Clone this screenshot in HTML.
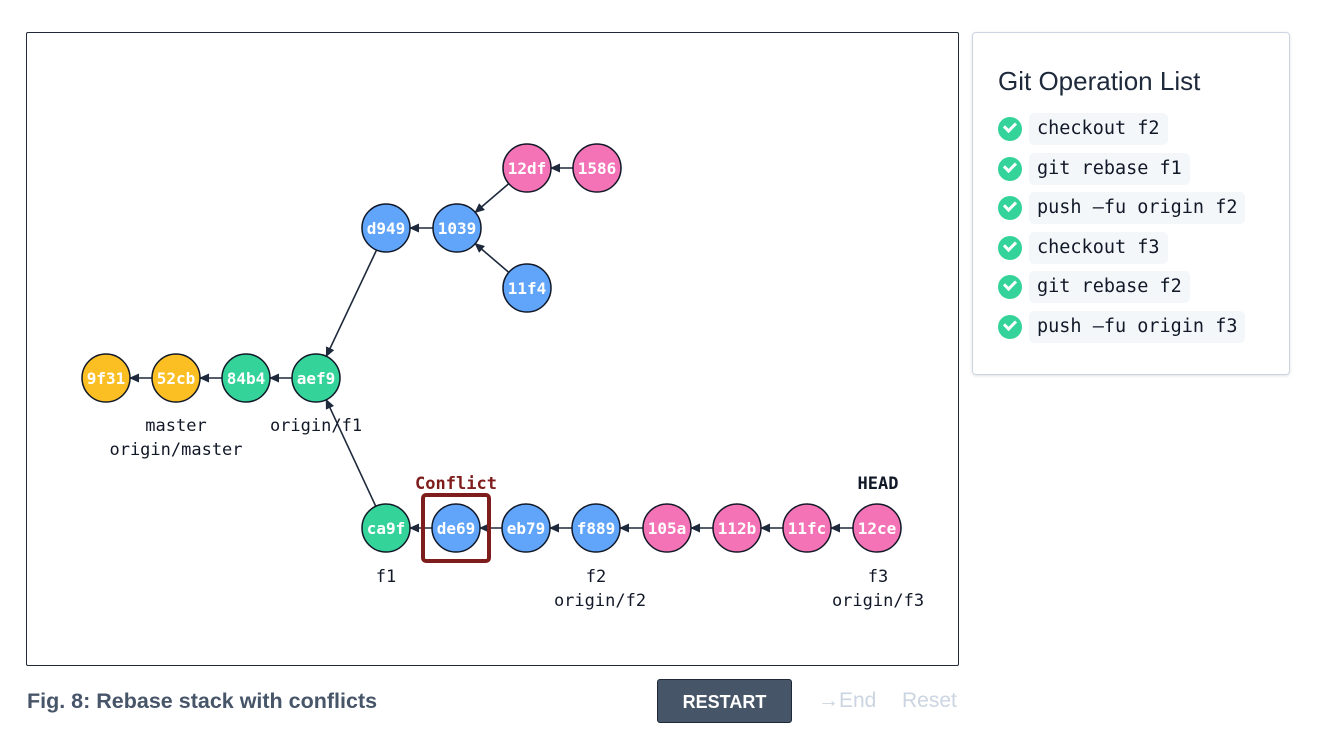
<!DOCTYPE html>
<html><head><meta charset="utf-8"><style>
html,body{margin:0;padding:0;background:#fff;width:1324px;height:750px;overflow:hidden;font-family:"Liberation Sans",sans-serif}
.frame{position:absolute;left:26px;top:32px;width:931px;height:632px;border:1px solid #1f2937;border-radius:2px}
.panel{position:absolute;left:972px;top:32px;width:316px;height:341px;border:1px solid #cbd5e1;border-radius:4px;box-shadow:0 1px 3px rgba(0,0,0,.12)}
.panel h2{position:absolute;left:25px;top:33px;margin:0;font-size:26px;font-weight:normal;color:#1e293b}
.row{position:absolute;left:25px;height:32px;display:flex;align-items:center}
.chk{width:24px;height:24px;border-radius:50%;background:#34d399;position:relative;margin-right:7px}
.chk:after{content:"";position:absolute;left:6px;top:5px;width:9px;height:5px;border-left:3px solid #fff;border-bottom:3px solid #fff;transform:rotate(-45deg)}
.code{background:#f4f7fa;border-radius:5px;padding:0 8px;height:32px;line-height:32px;font-family:"DejaVu Sans Mono","Liberation Mono",monospace;font-size:18.5px;color:#111827}
.cap{position:absolute;left:27px;top:689px;font-size:21.5px;font-weight:bold;color:#475569}
.btn{position:absolute;left:657px;top:679px;width:135px;height:44px;background:#475569;border:1px solid #1f2937;border-radius:3px;color:#fff;font-size:18px;font-weight:bold;text-align:center;line-height:44px;box-sizing:border-box}
.lnk{position:absolute;top:689px;font-size:21px;color:#cbd5e1}
</style></head><body>
<div class="frame"></div>
<svg width="1324" height="750" style="position:absolute;left:0;top:0">
<defs><marker id="a" markerWidth="10" markerHeight="10" refX="9" refY="5" orient="auto" markerUnits="userSpaceOnUse"><path d="M0,0.5 L10,5 L0,9.5 z" fill="#1e293b"/></marker></defs>
<g stroke="#1e293b" stroke-width="1.6" marker-end="url(#a)">
<line x1="573" y1="168" x2="551" y2="168"/>
<line x1="508.8" y1="183.6" x2="475.2" y2="212.4"/>
<line x1="508.8" y1="272.4" x2="475.2" y2="243.6"/>
<line x1="433" y1="228" x2="410" y2="228"/>
<line x1="376.7" y1="249.7" x2="326.3" y2="356.3"/>
<line x1="292" y1="378" x2="270" y2="378"/>
<line x1="222" y1="378" x2="200" y2="378"/>
<line x1="152" y1="378" x2="130" y2="378"/>
<line x1="375.8" y1="506.3" x2="326.2" y2="399.7"/>
<line x1="432" y1="528" x2="410" y2="528"/>
<line x1="502" y1="528" x2="480" y2="528"/>
<line x1="572" y1="528" x2="550" y2="528"/>
<line x1="643" y1="528" x2="620" y2="528"/>
<line x1="713" y1="528" x2="691" y2="528"/>
<line x1="783" y1="528" x2="761" y2="528"/>
<line x1="853" y1="528" x2="831" y2="528"/>
</g>
<g stroke="#111827" stroke-width="1.5">
<circle cx="527" cy="168" r="24" fill="#f472b6"/><circle cx="597" cy="168" r="24" fill="#f472b6"/>
<circle cx="386" cy="228" r="24" fill="#60a5fa"/><circle cx="457" cy="228" r="24" fill="#60a5fa"/>
<circle cx="527" cy="288" r="24" fill="#60a5fa"/>
<circle cx="106" cy="378" r="24" fill="#fbbf24"/><circle cx="176" cy="378" r="24" fill="#fbbf24"/>
<circle cx="246" cy="378" r="24" fill="#34d399"/><circle cx="316" cy="378" r="24" fill="#34d399"/>
<circle cx="386" cy="528" r="24" fill="#34d399"/>
<circle cx="456" cy="528" r="24" fill="#60a5fa"/><circle cx="526" cy="528" r="24" fill="#60a5fa"/><circle cx="596" cy="528" r="24" fill="#60a5fa"/>
<circle cx="667" cy="528" r="24" fill="#f472b6"/><circle cx="737" cy="528" r="24" fill="#f472b6"/><circle cx="807" cy="528" r="24" fill="#f472b6"/><circle cx="877" cy="528" r="24" fill="#f472b6"/>
</g>
<rect x="423" y="495" width="66" height="66" rx="3" fill="none" stroke="#7f1d1d" stroke-width="4"/>
<g fill="#fff" font-family="DejaVu Sans Mono,monospace" font-weight="bold" font-size="16" text-anchor="middle">
<text x="527" y="174">12df</text><text x="597" y="174">1586</text>
<text x="386" y="234">d949</text><text x="457" y="234">1039</text><text x="527" y="294">11f4</text>
<text x="106" y="384">9f31</text><text x="176" y="384">52cb</text><text x="246" y="384">84b4</text><text x="316" y="384">aef9</text>
<text x="386" y="534">ca9f</text><text x="456" y="534">de69</text><text x="526" y="534">eb79</text><text x="596" y="534">f889</text>
<text x="667" y="534">105a</text><text x="737" y="534">112b</text><text x="807" y="534">11fc</text><text x="877" y="534">12ce</text>
</g>
<g fill="#111827" font-family="DejaVu Sans Mono,monospace" font-size="17" text-anchor="middle">
<text x="176" y="431">master</text><text x="176" y="455">origin/master</text>
<text x="316" y="431">origin/f1</text>
<text x="386" y="582">f1</text>
<text x="596" y="582">f2</text><text x="600" y="606">origin/f2</text>
<text x="878" y="582">f3</text><text x="878" y="606">origin/f3</text>
<text x="878" y="489" font-weight="bold">HEAD</text>
<text x="456" y="489" font-weight="bold" fill="#7f1d1d">Conflict</text>
</g>
</svg>
<div class="panel">
<h2>Git Operation List</h2>
<div class="row" style="top:80px"><div class="chk"></div><div class="code">checkout f2</div></div>
<div class="row" style="top:120px"><div class="chk"></div><div class="code">git rebase f1</div></div>
<div class="row" style="top:159px"><div class="chk"></div><div class="code">push —fu origin f2</div></div>
<div class="row" style="top:199px"><div class="chk"></div><div class="code">checkout f3</div></div>
<div class="row" style="top:238px"><div class="chk"></div><div class="code">git rebase f2</div></div>
<div class="row" style="top:278px"><div class="chk"></div><div class="code">push —fu origin f3</div></div>
</div>
<div class="cap">Fig. 8: Rebase stack with conflicts</div>
<div class="btn">RESTART</div>
<div class="lnk" style="left:818px">→End</div>
<div class="lnk" style="left:902px">Reset</div>
</body></html>
